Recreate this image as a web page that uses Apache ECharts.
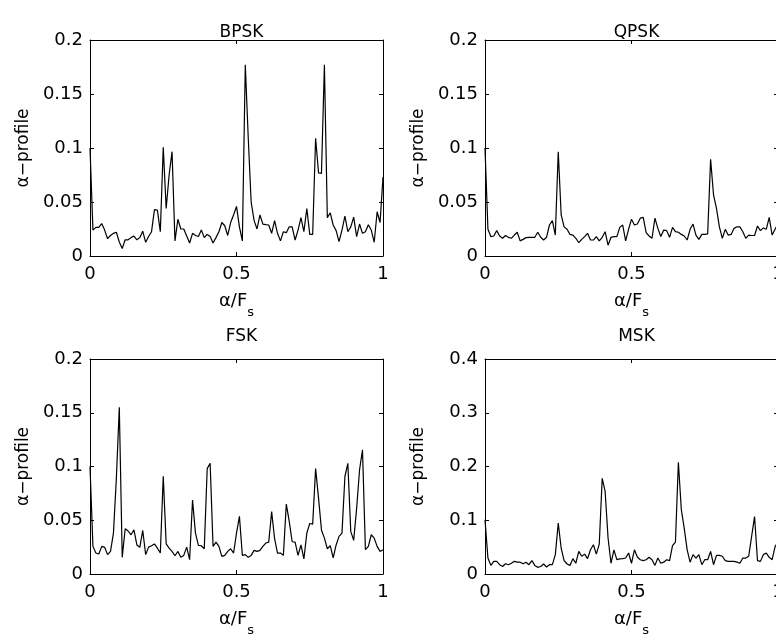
<!DOCTYPE html>
<html>
<head>
<meta charset="utf-8">
<script src="https://cdn.jsdelivr.net/npm/echarts@6/dist/echarts.min.js"></script>
<style>html,body{margin:0;padding:0;background:#fff;}#c{width:776px;height:639px;}</style>
</head>
<body>
<div id="c"></div>
<script>
const panelTitles = ['BPSK', 'QPSK', 'FSK', 'MSK'];
const yMaxes = [0.2, 0.2, 0.2, 0.4];
const yIntervals = [0.05, 0.05, 0.05, 0.1];
const xTickValues = [0, 0.5, 1];

const bpsk = [0.100,0.024,0.0265,0.0265,0.030,0.024,0.016,0.019,0.021,0.022,
0.013,0.007,0.015,0.015,0.017,0.0185,0.015,0.017,0.023,0.0127,
0.018,0.0225,0.043,0.0425,0.0225,0.1006,0.044,0.075,0.0966,0.014,
0.034,0.025,0.025,0.0185,0.012,0.021,0.019,0.018,0.024,0.017,
0.020,0.018,0.012,0.017,0.0225,0.031,0.028,0.019,0.031,0.038,
0.046,0.027,0.014,0.177,0.11,0.05,0.033,0.025,0.038,0.0295,
0.029,0.0287,0.021,0.0327,0.021,0.014,0.0225,0.0216,0.027,0.027,
0.0148,0.024,0.0355,0.0225,0.044,0.020,0.020,0.109,0.077,0.0765,
0.177,0.0355,0.040,0.0287,0.0235,0.0133,0.024,0.037,0.0225,0.027,
0.036,0.018,0.0296,0.021,0.0225,0.029,0.024,0.0127,0.041,0.031,0.073];

const qpsk = [0.100,0.0247,0.018,0.0185,0.0235,0.0185,0.0164,0.019,0.0173,0.0164,
0.0194,0.022,0.014,0.0154,0.017,0.0173,0.0173,0.0173,0.022,0.0173,
0.0148,0.0173,0.0287,0.0327,0.0194,0.0966,0.038,0.027,0.0247,0.020,
0.0194,0.0164,0.0123,0.0154,0.018,0.021,0.0148,0.0148,0.018,0.014,
0.0173,0.0225,0.010,0.0173,0.018,0.018,0.0265,0.0287,0.014,0.0247,
0.034,0.0287,0.0296,0.035,0.0358,0.0216,0.0185,0.0164,0.035,0.0256,
0.018,0.024,0.0235,0.0173,0.0265,0.0225,0.022,0.020,0.0185,0.0148,
0.0247,0.0296,0.0194,0.0154,0.020,0.020,0.0205,0.0895,0.0565,0.044,
0.027,0.0164,0.0247,0.0194,0.020,0.0256,0.027,0.027,0.0225,0.0164,
0.0194,0.019,0.019,0.0278,0.0235,0.026,0.0247,0.0358,0.0194,0.0247,0.030];

const fsk = [0.100,0.0257,0.0195,0.0186,0.0257,0.0248,0.018,0.021,0.038,0.089,
0.155,0.0155,0.042,0.040,0.0365,0.041,0.027,0.0248,0.0405,0.018,
0.025,0.0263,0.028,0.024,0.0195,0.091,0.028,0.024,0.021,0.017,
0.021,0.0155,0.0173,0.025,0.0133,0.0687,0.038,0.0266,0.0263,0.0235,
0.098,0.103,0.0257,0.0297,0.0257,0.0164,0.0173,0.021,0.0235,0.0195,
0.038,0.0536,0.0173,0.018,0.0155,0.0173,0.022,0.021,0.022,0.0257,
0.0288,0.0297,0.058,0.0328,0.0195,0.0195,0.0173,0.065,0.049,0.030,
0.0297,0.0173,0.027,0.014,0.038,0.047,0.0464,0.098,0.0706,0.041,
0.0334,0.0235,0.0263,0.015,0.027,0.035,0.038,0.0907,0.103,0.0396,
0.0313,0.061,0.097,0.1155,0.0226,0.0257,0.0365,0.0334,0.0257,0.021,0.0226];

const msk = [0.101,0.0297,0.016,0.0235,0.0235,0.0173,0.014,0.019,0.0173,0.020,
0.0235,0.022,0.022,0.019,0.022,0.0173,0.025,0.016,0.0124,0.014,
0.0186,0.013,0.0173,0.0173,0.036,0.0947,0.048,0.025,0.0186,0.016,
0.0285,0.020,0.042,0.033,0.037,0.0285,0.045,0.0545,0.037,0.0557,
0.178,0.1535,0.0669,0.020,0.045,0.0266,0.028,0.0285,0.0297,0.039,
0.020,0.045,0.0316,0.0266,0.025,0.0266,0.031,0.0266,0.016,0.0297,
0.020,0.022,0.0266,0.025,0.0526,0.0594,0.208,0.12,0.085,0.045,
0.022,0.036,0.0297,0.036,0.0173,0.0266,0.0266,0.042,0.0173,0.0347,
0.0347,0.033,0.025,0.0235,0.0235,0.0235,0.022,0.020,0.0297,0.0297,
0.033,0.07,0.107,0.025,0.0235,0.036,0.039,0.031,0.0266,0.051,0.06];

const profiles = [bpsk, qpsk, fsk, msk];

const FONT = 'DejaVu Sans';
const grids = [
  {left: 90, top: 40, width: 293, height: 216, outerBoundsMode: 'none', containLabel: false},
  {left: 485, top: 40, width: 293, height: 216, outerBoundsMode: 'none', containLabel: false},
  {left: 90, top: 359, width: 293, height: 215, outerBoundsMode: 'none', containLabel: false},
  {left: 485, top: 359, width: 293, height: 215, outerBoundsMode: 'none', containLabel: false}
];
const titleTops = [19, 19, 323, 323];

const xAxes = [], yAxes = [], series = [], titles = [];
grids.forEach((g, k) => {
  const common = {
    gridIndex: k, type: 'value',
    axisLine: {show: true, onZero: false, lineStyle: {color: '#000', width: 1}},
    axisTick: {show: true, inside: true, length: 4, lineStyle: {color: '#000', width: 1}},
    splitLine: {show: false}
  };
  xAxes.push(Object.assign({}, common, {
    position: 'bottom', min: xTickValues[0], max: xTickValues[2], interval: xTickValues[1] - xTickValues[0],
    axisLabel: {color: '#000', fontSize: 18, fontFamily: FONT, margin: 9},
    name: '{a|α/F}{s|s}', nameLocation: 'middle', nameGap: 28,
    nameTextStyle: {
      rich: {
        a: {fontSize: 18, fontFamily: FONT, color: '#000', lineHeight: 20},
        s: {fontSize: 13, fontFamily: FONT, color: '#000', lineHeight: 14, padding: [22, 0, 0, 0]}
      }
    }
  }));
  xAxes.push(Object.assign({}, common, {
    position: 'top', min: xTickValues[0], max: xTickValues[2], interval: xTickValues[1] - xTickValues[0],
    axisLabel: {show: false}
  }));
  yAxes.push(Object.assign({}, common, {
    position: 'left', min: 0, max: yMaxes[k], interval: yIntervals[k],
    axisLabel: {color: '#000', fontSize: 18, fontFamily: FONT, margin: 7},
    name: 'α−profile', nameLocation: 'middle', nameGap: 58,
    nameTextStyle: {color: '#000', fontSize: 17, fontFamily: FONT}
  }));
  yAxes.push(Object.assign({}, common, {
    position: 'right', min: 0, max: yMaxes[k], interval: yIntervals[k],
    axisLabel: {show: false}
  }));
  const vals = profiles[k];
  const n = vals.length;
  series.push({
    type: 'line', xAxisIndex: 2 * k, yAxisIndex: 2 * k,
    data: vals.map((v, i) => [i / (n - 1), v]),
    showSymbol: false, symbol: 'none', silent: true, animation: false,
    lineStyle: {color: '#000', width: 1.2}
  });
  titles.push({
    text: panelTitles[k], left: g.left + g.width / 2, top: titleTops[k], textAlign: 'center',
    textStyle: {color: '#000', fontSize: 17, fontWeight: 'normal', fontFamily: FONT}
  });
});

const chart = echarts.init(document.getElementById('c'), null, {renderer: 'canvas'});
chart.setOption({
  backgroundColor: '#fff',
  animation: false,
  title: titles,
  grid: grids,
  xAxis: xAxes,
  yAxis: yAxes,
  series: series
});
</script>
</body>
</html>
